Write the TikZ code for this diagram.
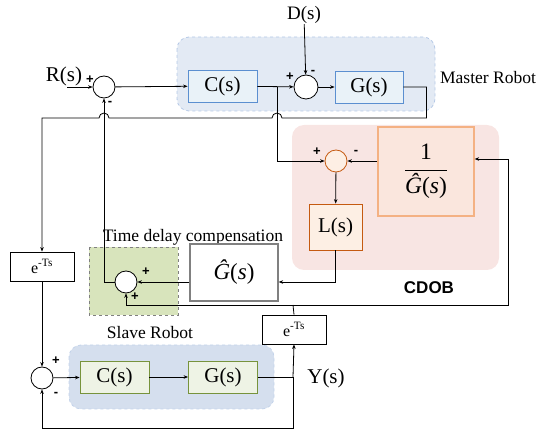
\documentclass[tikz,border=0pt]{standalone}
\usepackage{amsmath}
\usepackage{fontspec}
\setmainfont{Liberation Serif}
\setsansfont{Liberation Sans}
\usetikzlibrary{arrows.meta}
\definecolor{mbg}{HTML}{E3EAF4}
\definecolor{mbgline}{HTML}{B4C8E6}
\definecolor{mbox}{HTML}{E9F2F8}
\definecolor{mboxline}{HTML}{5B8FD0}
\definecolor{cbg}{HTML}{F8E5E3}
\definecolor{cbox}{HTML}{FAE6DD}
\definecolor{cboxline}{HTML}{F4B183}
\definecolor{lbox}{HTML}{FDEFE4}
\definecolor{lboxline}{HTML}{C55A11}
\definecolor{tbg}{HTML}{D8E4BC}
\definecolor{sbg}{HTML}{D5DFEE}
\definecolor{sbgline}{HTML}{C3D3EA}
\definecolor{sbox}{HTML}{EEF3E5}
\definecolor{sboxline}{HTML}{77933C}

\begin{document}
\begin{tikzpicture}[x=1pt, y=-1pt, line width=0.8pt,
    >={Stealth[length=4.5pt,width=3.5pt]},
    blk/.style={draw, minimum width=69pt, minimum height=32pt, inner sep=0pt,
      font=\fontsize{21}{24}\selectfont},
    sumnode/.style={draw, circle, fill=white, minimum size=22pt, inner sep=0pt},
    sgn/.style={font=\sffamily\bfseries\fontsize{13}{13}\selectfont, inner sep=0pt},
    lbl/.style={font=\fontsize{17.5}{20}\selectfont, inner sep=0pt},
    big/.style={font=\fontsize{21}{24}\selectfont, inner sep=0pt},
    delay/.style={draw, fill=white, minimum width=64pt, minimum height=29pt,
      inner sep=0pt, font=\fontsize{16}{18}\selectfont}]
  \useasboundingbox (0,0) rectangle (539,430);

  \draw[fill=mbg, draw=mbgline, dashed, rounded corners=12pt] (177,37) rectangle (435,111);
  \fill[cbg, rounded corners=12pt] (292,125) rectangle (499,270);
  \draw[fill=tbg, draw=black!50, dashed] (89,247) rectangle (178,315);
  \draw[fill=sbg, draw=sbgline, dashed, rounded corners=12pt] (69,345) rectangle (274,409);

  \node[lbl] (mlabel) at (488,78) {Master Robot};
  \node[font=\sffamily\bfseries\fontsize{17}{20}\selectfont] (cdoblabel) at (429,288) {CDOB};
  \node[lbl] (tlabel) at (193,237) {Time delay compensation};
  \node[lbl] (slabel) at (150,333) {Slave Robot};
  \node[big] (R) at (64,76) {R(s)};
  \node[big, font=\fontsize{19}{22}\selectfont] (D) at (304,15) {D(s)};
  \node[big] (Y) at (326,378) {Y(s)};

  \node[sumnode] (sumR) at (104,87) {};
  \node[blk, fill=mbox, draw=mboxline] (Cm) at (222.5,86) {C(s)};
  \node[sumnode, minimum size=24pt] (sumD) at (306,87) {};
  \node[blk, fill=mbox, draw=mboxline, minimum width=68pt] (Gm) at (369,87) {G(s)};

  \node[draw=cboxline, fill=cbox, line width=1.3pt, minimum width=96pt, minimum height=89pt,
        font=\fontsize{23.5}{26}\selectfont] (invG) at (426,171.5)
    {$\dfrac{\text{1}}{\text{\itshape Ĝ\upshape(\itshape s\upshape)}}$};
  \node[sumnode, fill=lbox, draw=lboxline] (sumC) at (336,161) {};
  \node[blk, fill=lbox, draw=lboxline, minimum width=53pt, minimum height=46pt] (L) at (335.5,227) {L(s)};

  \node[blk, fill=white, draw=black!50, line width=1.3pt, minimum width=88pt, minimum height=57pt,
        font=\fontsize{23}{26}\selectfont] (Ghat) at (234,272.5) {\textit{Ĝ}(\textit{s})};
  \node[sumnode] (sumT) at (126,282) {};

  \node[delay] (eL) at (42,266.5) {e\textsuperscript{-Ts}};
  \node[delay] (eR) at (294,329.5) {e\textsuperscript{-Ts}};

  \node[sumnode] (sumS) at (42,378) {};
  \node[blk, fill=sbox, draw=sboxline] (Cs) at (114.5,377) {C(s)};
  \node[blk, fill=sbox, draw=sboxline] (Gs) at (223,377) {G(s)};

  \node[sgn] (pR) at (90,80) {+};
  \node[sgn] (mR) at (110,103) {-};
  \node[sgn] (pD) at (290,77) {+};
  \node[sgn] (mD) at (313,72) {-};
  \node[sgn] (pC) at (317,152) {+};
  \node[sgn] (mC) at (356,152) {-};
  \node[sgn] (pT1) at (146,272) {+};
  \node[sgn] (pT2) at (135,297) {+};
  \node[sgn] (pS) at (56,361) {+};
  \node[sgn] (mS) at (56,394) {-};

  \coordinate (rin) at (67,87);
  \coordinate (jc) at (277,87);
  \coordinate (hopA) at (282,118);
  \coordinate (hopB) at (109,118);
  \coordinate (jy) at (293,377);
  \coordinate (jt) at (293,305);
  \coordinate (fb) at (508,159);

  \draw[->] (rin) -- (sumR);
  \draw[->] (sumR) -- (Cm);
  \draw[->] (Cm) -- (sumD);
  \draw[->] (D) -- (sumD);
  \draw[->] (sumD) -- (Gm);
  \draw[->] (Gm.east) -- ++(23,0) |- (hopA)
    arc[start angle=0, end angle=180, radius=5pt] -- (hopB)
    arc[start angle=0, end angle=180, radius=5pt] -| (eL.north);
  \draw[->] (jc) |- (sumC.west);
  \draw[->] (sumC -| invG.west) -- (sumC.east);
  \draw[->] (sumC) -- (L);
  \draw[->] (L.south) |- (sumT -| Ghat.east);
  \draw[->] (sumT -| Ghat.west) -- (sumT.east);
  \draw[->] (sumT.west) -| (sumR.south);
  \draw[->] (eL) -- (sumS);
  \draw[->] (sumS) -- (Cs);
  \draw[->] (Cs) -- (Gs);
  \draw (Gs.east) -- (jy);
  \draw[->] (jy) -- (eR.south);
  \draw[->] (jy) -- ++(0,51) -| (sumS.south);
  \draw (eR.north) -- (jt);
  \draw[->] (jt) -| (sumT.south);
  \draw[->] (jt) -| (fb) -- (fb -| invG.east);
\end{tikzpicture}
\end{document}
